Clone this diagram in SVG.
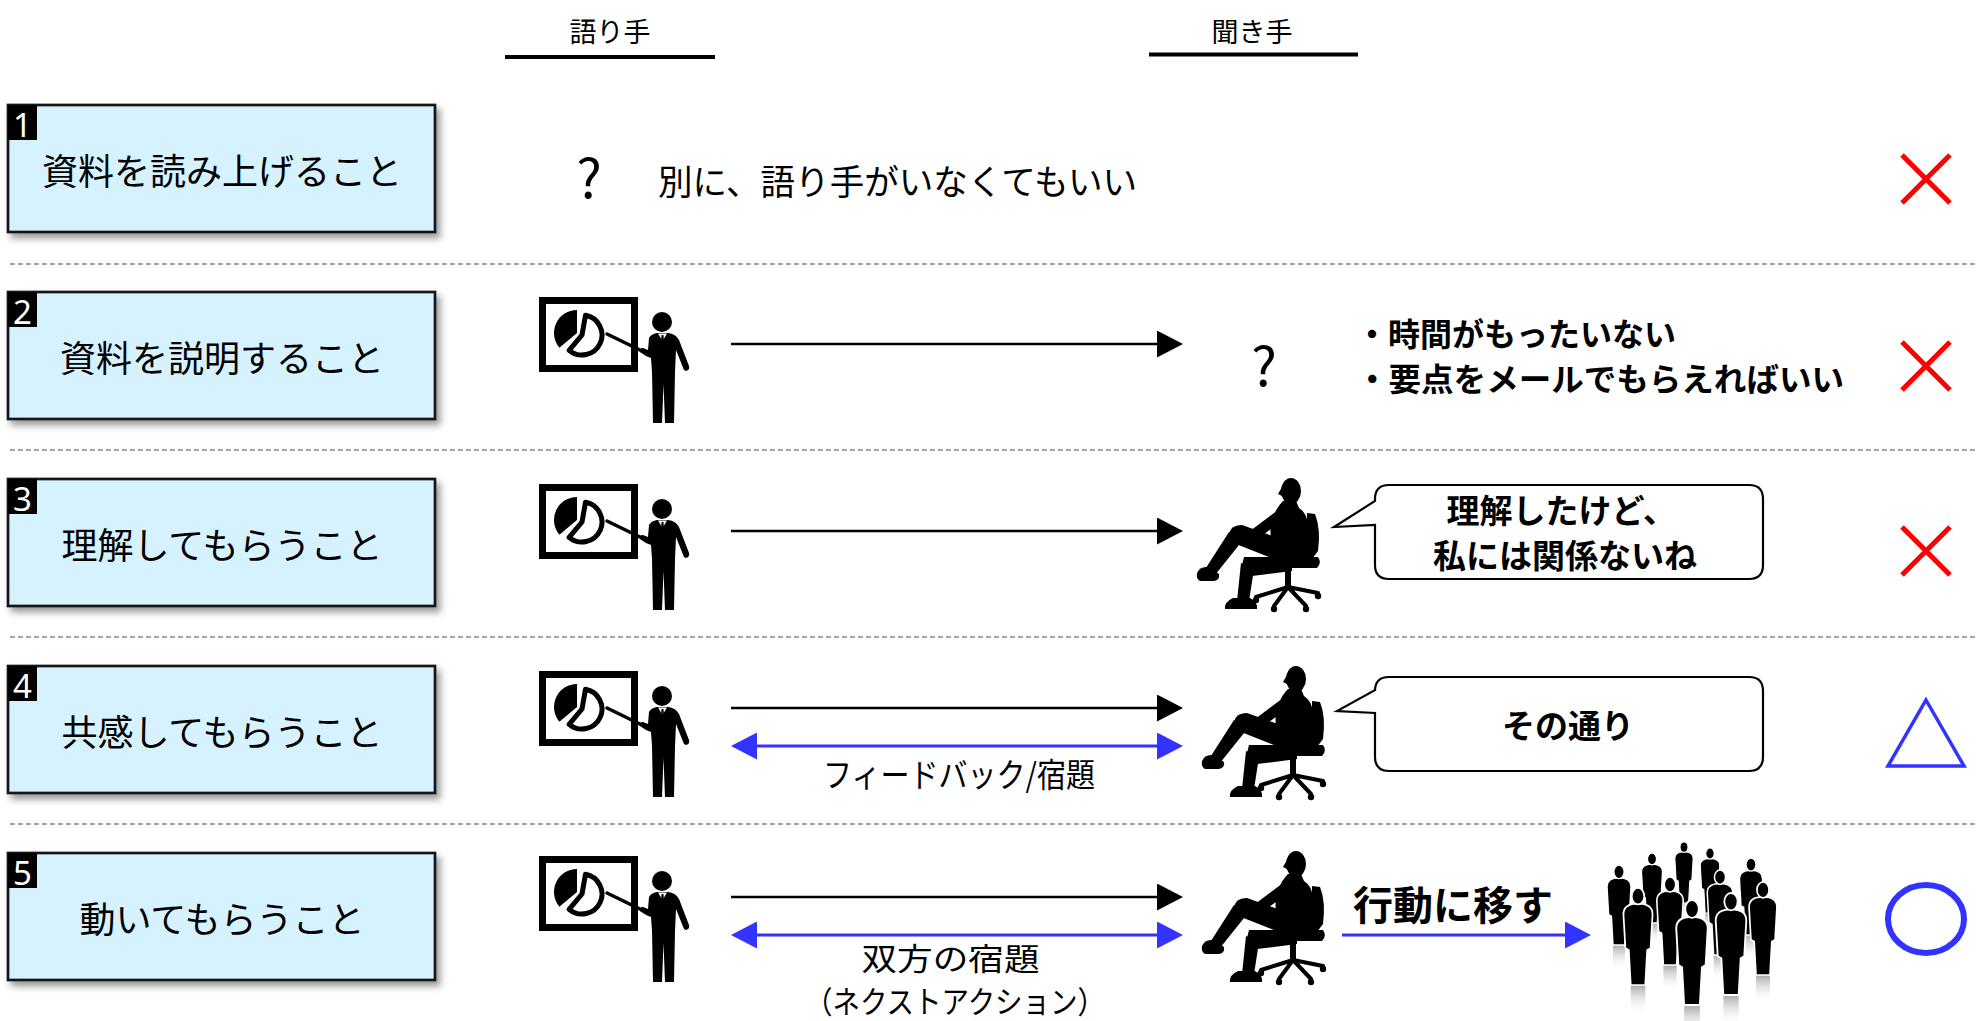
<svg xmlns="http://www.w3.org/2000/svg" xmlns:xlink="http://www.w3.org/1999/xlink" width="1978" height="1021" viewBox="0 0 1978 1021">
  <style>
    .jp { font-family: "Noto Sans CJK JP", "Noto Sans", sans-serif; fill: #000; }
    .box { fill: #D5F2FE; stroke: #141414; stroke-width: 2.7; filter: url(#shadow); }
    .numbg { fill: #000; }
    .num { font-family: "Noto Sans", "Liberation Sans", sans-serif; font-size: 33px; fill: #fff; text-anchor: middle; }
    .label { font-size: 36px; text-anchor: middle; dominant-baseline: central; }
    .head { font-size: 27px; text-anchor: middle; dominant-baseline: central; }
    .bold { font-weight: 700; }
    .sep { stroke: #8a8a8a; stroke-width: 1.6; stroke-dasharray: 5 3; fill: none; }
    .ak { stroke: #000; stroke-width: 2.6; fill: none; marker-end: url(#ahk); }
    .ab { stroke: #3333ff; stroke-width: 3; fill: none; marker-end: url(#ahb); }
    .ab2 { stroke: #3333ff; stroke-width: 3; fill: none; marker-start: url(#ahb); marker-end: url(#ahb); }
    .bubble { fill: #fff; stroke: #000; stroke-width: 2.2; }
    .ng { stroke: #ff0000; stroke-width: 5; fill: none; }
    .ok { stroke: #3333ff; fill: none; }
  </style>
  <defs>
    <filter id="shadow" x="-5%" y="-10%" width="115%" height="130%">
      <feDropShadow dx="4" dy="5" stdDeviation="3.5" flood-color="#000" flood-opacity="0.4"/>
    </filter>
    <marker id="ahk" viewBox="0 0 26 27" refX="0" refY="13.5" markerWidth="26" markerHeight="27" markerUnits="userSpaceOnUse" orient="auto-start-reverse">
      <path d="M0 0 L26 13.5 L0 27 Z" fill="#000"/>
    </marker>
    <marker id="ahb" viewBox="0 0 26 27" refX="0" refY="13.5" markerWidth="26" markerHeight="27" markerUnits="userSpaceOnUse" orient="auto-start-reverse">
      <path d="M0 0 L26 13.5 L0 27 Z" fill="#3333ff"/>
    </marker>
    <linearGradient id="refl" x1="0" y1="0" x2="0" y2="1">
      <stop offset="0" stop-color="#8c8c8c" stop-opacity="0.75"/>
      <stop offset="1" stop-color="#ffffff" stop-opacity="0"/>
    </linearGradient>

    <!-- speaker at a chart board, local box 154 x 131 -->
    <g id="presenter">
      <rect x="6.5" y="6.5" width="92" height="68" fill="#fff" stroke="#000" stroke-width="7"/>
      <path d="M41 39 L41 16 A23 23 0 0 0 23.4 53.8 Z" fill="#000"/>
      <path d="M46 41 L49.5 21.3 A20 20 0 1 1 33.1 56.3 Z" fill="#fff" stroke="#000" stroke-width="5" stroke-linejoin="round"/>
      <line x1="71" y1="40" x2="108" y2="58" stroke="#000" stroke-width="3.5" stroke-linecap="round"/>
      <circle cx="126" cy="28" r="10" fill="#000"/>
      <path d="M113 44 Q115 40 121 39 L132 39 Q140 40 143 46 L153 72 Q154 76 150 77 L148 76 L140 56 L139 78 L138 129 L129 129 L127.5 90 L126 129 L117 129 L116 78 L115 64 L110 62 L104 58 Q103 54 107 54 L112 56 Z" fill="#000"/>
      <path d="M122 39.5 L126.5 47 L131 39.5 Z" fill="#fff"/>
      <path d="M125.5 41 L127.5 41 L128 50 L126.5 52 L125 50 Z" fill="#000"/>
    </g>

    <!-- listener seated in an office chair, local box 126 x 136 -->
    <g id="sitter" fill="#000">
      <ellipse cx="95" cy="14" rx="10" ry="13"/>
      <path d="M86 10 L82 17 L86 19 Z"/>
      <path d="M87 24 L100 24 L103 31 Q111 36 112 48 L113 74 Q112 84 102 86 L86 86 L76 66 Q72 50 78 38 Q81 30 87 24 Z"/>
      <path d="M111 36 L119 37 Q125 52 122 74 L116 82 L111 80 Z"/>
      <path d="M68 80 L122 80 Q126 86 121 91 L72 91 Z"/>
      <path d="M102 68 L46 48 Q34 48 33 58 L40 67 L98 90 Z"/>
      <path d="M33 55 L47 63 L19 98 L8 94 Z"/>
      <path d="M1 96 Q4 89 12 90 L23 97 Q24 103 18 104 L4 104 Q0 102 1 96 Z"/>
      <path d="M96 80 L96 94 L56 99 L45 92 L48 80 Z"/>
      <path d="M45 86 L58 92 L53 124 L41 124 Z"/>
      <path d="M37 121 L54 121 Q62 125 61 132 L29 132 Q28 125 37 121 Z"/>
      <path d="M82 33 L91 40 L60 63 Q52 67 46 63 L46 56 L54 54 Z"/>
      <rect x="89" y="90" width="6" height="20"/>
      <path d="M92 110 L60 120 M92 110 L78 129 M92 110 L110 129 M92 110 L122 116" stroke="#000" stroke-width="4" fill="none" stroke-linecap="round"/>
      <circle cx="60" cy="123" r="3.2"/>
      <circle cx="78" cy="132" r="3.2"/>
      <circle cx="110" cy="132" r="3.2"/>
      <circle cx="122" cy="119" r="3.2"/>
    </g>

    <!-- standing figure, unit height 100 -->
    <g id="stand">
      <rect x="7.5" y="100" width="15" height="30" fill="url(#refl)"/>
      <g fill="#000" stroke="#fff" stroke-width="1.8">
        <path d="M15 16 C24 16 30 19 30 27 L28 62 L24.5 64 L22.5 100 L7.5 100 L5.5 64 L2 62 L0 27 C0 19 6 16 15 16 Z"/>
        <ellipse cx="15" cy="8.5" rx="6.5" ry="8.5"/>
      </g>
    </g>
  </defs>

  <rect width="1978" height="1021" fill="#fff"/>

  <!-- column headers -->
  <g id="header-speaker">
    <text class="jp head" x="610" y="30">語り手</text>
    <line x1="505" y1="57" x2="715" y2="57" stroke="#000" stroke-width="4"/>
  </g>
  <g id="header-listener">
    <text class="jp head" x="1252" y="30">聞き手</text>
    <line x1="1149" y1="54.5" x2="1358" y2="54.5" stroke="#000" stroke-width="4"/>
  </g>

  <!-- row separators -->
  <g id="separators">
    <line class="sep" x1="10" y1="264" x2="1978" y2="264"/>
    <line class="sep" x1="10" y1="450" x2="1978" y2="450"/>
    <line class="sep" x1="10" y1="637" x2="1978" y2="637"/>
    <line class="sep" x1="10" y1="824" x2="1978" y2="824"/>
  </g>

  <!-- step boxes -->
  <g id="step1">
    <rect class="box" x="8" y="105" width="427" height="127"/>
    <rect class="numbg" x="8" y="105" width="29" height="35"/>
    <text class="num" x="22.5" y="137">1</text>
    <text class="jp label" x="222" y="169">資料を読み上げること</text>
  </g>
  <g id="step2">
    <rect class="box" x="8" y="292" width="427" height="127"/>
    <rect class="numbg" x="8" y="292" width="29" height="35"/>
    <text class="num" x="22.5" y="324">2</text>
    <text class="jp label" x="222" y="356">資料を説明すること</text>
  </g>
  <g id="step3">
    <rect class="box" x="8" y="479" width="427" height="127"/>
    <rect class="numbg" x="8" y="479" width="29" height="35"/>
    <text class="num" x="22.5" y="511">3</text>
    <text class="jp label" x="222" y="543">理解してもらうこと</text>
  </g>
  <g id="step4">
    <rect class="box" x="8" y="666" width="427" height="127"/>
    <rect class="numbg" x="8" y="666" width="29" height="35"/>
    <text class="num" x="22.5" y="698">4</text>
    <text class="jp label" x="222" y="730">共感してもらうこと</text>
  </g>
  <g id="step5">
    <rect class="box" x="8" y="853" width="427" height="127"/>
    <rect class="numbg" x="8" y="853" width="29" height="35"/>
    <text class="num" x="22.5" y="885">5</text>
    <text class="jp label" x="222" y="917">動いてもらうこと</text>
  </g>

  <!-- row 1 -->
  <g id="row1-note">
    <text class="jp" x="589" y="174" font-size="54" text-anchor="middle" dominant-baseline="central">?</text>
    <text class="jp" x="658" y="179" font-size="35" dominant-baseline="central" textLength="479" lengthAdjust="spacingAndGlyphs">別に、語り手がいなくてもいい</text>
  </g>

  <!-- speakers -->
  <g id="speaker2"><use xlink:href="#presenter" href="#presenter" transform="translate(536,294)"/></g>
  <g id="speaker3"><use xlink:href="#presenter" href="#presenter" transform="translate(536,481)"/></g>
  <g id="speaker4"><use xlink:href="#presenter" href="#presenter" transform="translate(536,668)"/></g>
  <g id="speaker5"><use xlink:href="#presenter" href="#presenter" transform="translate(536,853)"/></g>

  <!-- row 2 listener side -->
  <g id="row2-note">
    <text class="jp" x="1264" y="362" font-size="54" text-anchor="middle" dominant-baseline="central">?</text>
    <text class="jp bold" font-size="32" dominant-baseline="central">
      <tspan x="1356" y="332">・時間がもったいない</tspan>
      <tspan x="1356" y="377" textLength="488" lengthAdjust="spacingAndGlyphs">・要点をメールでもらえればいい</tspan>
    </text>
  </g>

  <!-- listeners -->
  <g id="listener3"><use xlink:href="#sitter" href="#sitter" transform="translate(1196,477)"/></g>
  <g id="listener4"><use xlink:href="#sitter" href="#sitter" transform="translate(1201,665)"/></g>
  <g id="listener5"><use xlink:href="#sitter" href="#sitter" transform="translate(1201,850)"/></g>

  <!-- speech bubbles -->
  <g id="bubble3">
    <path class="bubble" d="M1389 485 H1749 Q1763 485 1763 499 V565 Q1763 579 1749 579 H1389 Q1375 579 1375 565 V525 L1334 527 L1375 501 V499 Q1375 485 1389 485 Z"/>
    <text class="jp bold" font-size="33" text-anchor="middle" dominant-baseline="central">
      <tspan x="1565" y="509">理解したけど、</tspan>
      <tspan x="1565" y="554">私には関係ないね</tspan>
    </text>
  </g>
  <g id="bubble4">
    <path class="bubble" d="M1389 677 H1749 Q1763 677 1763 691 V757 Q1763 771 1749 771 H1389 Q1375 771 1375 757 V713 L1337 711 L1375 690 V691 Q1375 677 1389 677 Z"/>
    <text class="jp bold" x="1568" y="724" font-size="33" text-anchor="middle" dominant-baseline="central">その通り</text>
  </g>

  <!-- crowd -->
  <g id="crowd">
    <use xlink:href="#stand" href="#stand" transform="translate(1674.85,842) scale(0.61)"/>
    <use xlink:href="#stand" href="#stand" transform="translate(1700.25,848) scale(0.65)"/>
    <use xlink:href="#stand" href="#stand" transform="translate(1641.5,853) scale(0.70)"/>
    <use xlink:href="#stand" href="#stand" transform="translate(1739.45,858) scale(0.77)"/>
    <use xlink:href="#stand" href="#stand" transform="translate(1607,865) scale(0.80)"/>
    <use xlink:href="#stand" href="#stand" transform="translate(1707.25,870) scale(0.85)"/>
    <use xlink:href="#stand" href="#stand" transform="translate(1656.8,877) scale(0.88)"/>
    <use xlink:href="#stand" href="#stand" transform="translate(1749.05,882) scale(0.93)"/>
    <use xlink:href="#stand" href="#stand" transform="translate(1623.45,888) scale(0.97)"/>
    <use xlink:href="#stand" href="#stand" transform="translate(1715.7,893) scale(1.02)"/>
    <use xlink:href="#stand" href="#stand" transform="translate(1676.25,900) scale(1.05)"/>
  </g>

  <!-- connectors -->
  <g id="connectors">
    <line class="ak" x1="731" y1="344" x2="1157" y2="344"/>
    <line class="ak" x1="731" y1="531" x2="1157" y2="531"/>
    <line class="ak" x1="731" y1="708" x2="1157" y2="708"/>
    <line class="ab2" x1="757" y1="746" x2="1157" y2="746"/>
    <line class="ak" x1="731" y1="897" x2="1157" y2="897"/>
    <line class="ab2" x1="757" y1="935" x2="1157" y2="935"/>
    <line class="ab" x1="1342" y1="935" x2="1565" y2="935"/>
  </g>

  <!-- connector labels -->
  <g id="connector-labels">
    <text class="jp" x="959" y="773" font-size="33" text-anchor="middle" dominant-baseline="central" textLength="272" lengthAdjust="spacingAndGlyphs">フィードバック/宿題</text>
    <text class="jp" font-size="31" text-anchor="middle" dominant-baseline="central">
      <tspan x="954" y="956" textLength="178" lengthAdjust="spacingAndGlyphs">双方の宿題</tspan>
      <tspan x="955" y="999" textLength="300" lengthAdjust="spacingAndGlyphs">（ネクストアクション）</tspan>
    </text>
    <text class="jp bold" x="1453" y="903" font-size="40" text-anchor="middle" dominant-baseline="central">行動に移す</text>
  </g>

  <!-- verdict marks -->
  <g id="mark1"><path class="ng" d="M1902 155 L1950 203 M1950 155 L1902 203"/></g>
  <g id="mark2"><path class="ng" d="M1902 342 L1950 390 M1950 342 L1902 390"/></g>
  <g id="mark3"><path class="ng" d="M1902 527 L1950 575 M1950 527 L1902 575"/></g>
  <g id="mark4"><path class="ok" stroke-width="3.5" d="M1926 700 L1964 766 L1888 766 Z"/></g>
  <g id="mark5"><ellipse class="ok" stroke-width="6" cx="1926" cy="919" rx="38" ry="34"/></g>
</svg>
